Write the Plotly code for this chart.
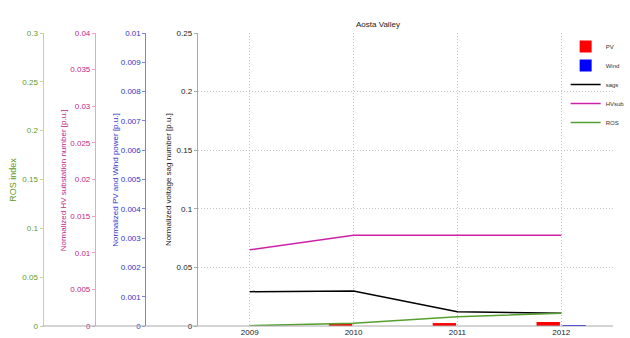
import plotly.graph_objects as go

years = [2009, 2010, 2011, 2012]
pv = [0.0, 0.00007, 0.0001, 0.00014]
wind = [0.0, 0.0, 0.0, 0.00003]
sags = [0.0293, 0.0299, 0.0122, 0.0108]
hvsub = [0.0104, 0.0124, 0.0124, 0.0124]
ros = [0.0003, 0.0028, 0.0095, 0.013]

W, H = 630, 338
def px(x): return x / W
def py(y): return (H - y) / H

x0, x1 = px(200), px(620)
y0, y1 = py(326), py(33)

C_ROS = "#5f9a2a"
C_HV = "#c21f8a"
C_PV = "#3333cc"
FONT = "Liberation Sans, Arial, sans-serif"

fig = go.Figure()
fig.add_trace(go.Scatter(x=years, y=sags, name="sags", mode="lines", legendrank=3,
                         line=dict(color="black", width=1.5), xaxis="x", yaxis="y"))
fig.add_trace(go.Bar(x=years, y=pv, name="PV", legendrank=1,
                     marker=dict(color="#ff0000", line=dict(width=0)),
                     xaxis="x", yaxis="y2"))
fig.add_trace(go.Bar(x=years, y=wind, name="Wind", legendrank=2,
                     marker=dict(color="#0000ff", line=dict(width=0)),
                     xaxis="x", yaxis="y2"))
fig.add_trace(go.Scatter(x=years, y=hvsub, name="HVsub", mode="lines", legendrank=4,
                         line=dict(color="#cc22aa", width=1.5), xaxis="x", yaxis="y3"))
fig.add_trace(go.Scatter(x=years, y=ros, name="ROS", mode="lines", legendrank=5,
                         line=dict(color="#55a030", width=1.5), xaxis="x", yaxis="y4"))

GRID = dict(showgrid=True, gridcolor="#c4c4c4", griddash="1px,2px", gridwidth=1)

fig.update_layout(
    width=W, height=H,
    margin=dict(l=0, r=0, t=0, b=0),
    paper_bgcolor="white", plot_bgcolor="rgba(0,0,0,0)",
    barmode="group", bargap=0.5, bargroupgap=0.1,
    showlegend=True,
    legend=dict(x=px(572), y=py(32), xanchor="left", yanchor="top",
                font=dict(family=FONT, size=6, color="#333"),
                bgcolor="rgba(255,255,255,0)", traceorder="normal",
                itemwidth=30, tracegroupgap=0),
    xaxis=dict(domain=[x0, x1], range=[2008.5, 2012.5], tickvals=years,
               ticktext=[str(y) for y in years], tickfont=dict(family=FONT, size=8, color="#222"),
               showline=False, zeroline=False, ticks="", automargin=False, anchor="y", **GRID),
    yaxis=dict(domain=[y0, y1], range=[0, 0.25], tickvals=[0, 0.05, 0.1, 0.15, 0.2, 0.25],
               ticktext=["0", "0.05", "0.1", "0.15", "0.2", "0.25"],
               tickfont=dict(family=FONT, size=8, color="#222"),
               showline=True, linecolor="#aaaaaa", linewidth=1, zeroline=False,
               ticks="outside", ticklen=3, tickcolor="#aaaaaa", automargin=False, anchor="x", **GRID),
    yaxis2=dict(overlaying="y", anchor="free", position=px(147), side="left", range=[0, 0.01],
                tickvals=[i / 1000 for i in range(11)],
                ticktext=["0"] + ["%.3f" % (i / 1000) for i in range(1, 10)] + ["0.01"],
                tickfont=dict(family=FONT, size=8, color=C_PV),
                showgrid=False, zeroline=False, showline=True, linecolor="#8080e0", linewidth=1,
                ticks="outside", ticklen=3, tickcolor="#8080e0", automargin=False),
    yaxis3=dict(overlaying="y", anchor="free", position=px(96), side="left", range=[0, 0.04],
                tickvals=[i * 0.005 for i in range(9)],
                ticktext=["0", "0.005", "0.01", "0.015", "0.02", "0.025", "0.03", "0.035", "0.04"],
                tickfont=dict(family=FONT, size=8, color=C_HV),
                showgrid=False, zeroline=False, showline=True, linecolor="#f0a0c8", linewidth=1,
                ticks="outside", ticklen=3, tickcolor="#f0a0c8", automargin=False),
    yaxis4=dict(overlaying="y", anchor="free", position=px(43), side="left", range=[0, 0.3],
                tickvals=[0, 0.05, 0.1, 0.15, 0.2, 0.25, 0.3],
                ticktext=["0", "0.05", "0.1", "0.15", "0.2", "0.25", "0.3"],
                tickfont=dict(family=FONT, size=8, color=C_ROS),
                showgrid=False, zeroline=False, showline=True, linecolor="#c0d890", linewidth=1,
                ticks="outside", ticklen=3, tickcolor="#c0d890", automargin=False),
)

# bottom axis line spanning all axes
fig.add_shape(type="line", xref="paper", yref="paper", x0=px(43), x1=px(620), y0=y0, y1=y0,
              line=dict(color="#aaaaaa", width=1))

ann = [
    dict(text="Aosta Valley", x=px(382), y=py(24), font=dict(family=FONT, size=8, color="#222"), textangle=0),
    dict(text="ROS index", x=px(13), y=py(180), font=dict(family=FONT, size=9, color=C_ROS), textangle=-90),
    dict(text="Normalized HV substation number [p.u.]", x=px(64), y=py(180),
         font=dict(family=FONT, size=8, color=C_HV), textangle=-90),
    dict(text="Normalized PV and Wind power [p.u.]", x=px(116), y=py(180),
         font=dict(family=FONT, size=8, color=C_PV), textangle=-90),
    dict(text="Normalized voltage sag number [p.u.]", x=px(170), y=py(180),
         font=dict(family=FONT, size=8, color="#222"), textangle=-90),
]
for a in ann:
    fig.add_annotation(xref="paper", yref="paper", showarrow=False, xanchor="center", yanchor="middle", **a)

fig.write_html("out.html")
